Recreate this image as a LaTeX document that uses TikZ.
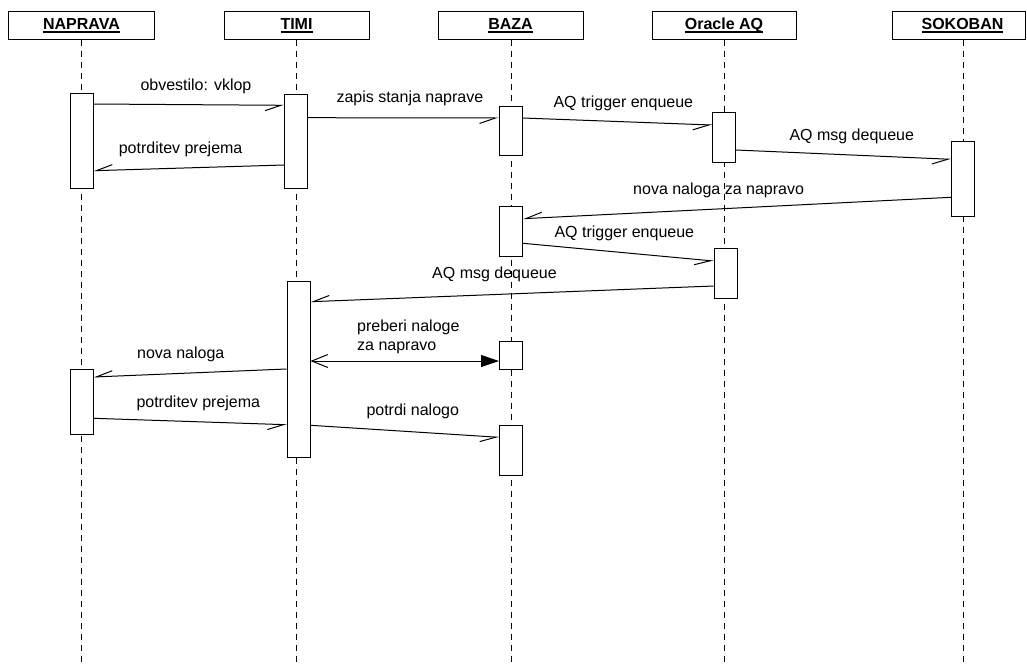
\documentclass[tikz,border=0pt]{standalone}
\usepackage{fontspec}
\setmainfont{Liberation Sans}
\usetikzlibrary{arrows.meta}
\newcommand\hdul[1]{\setbox0\hbox{#1}\rlap{\rule[-3pt]{\wd0}{1.1pt}}\box0}
\begin{document}
\begin{tikzpicture}[x=1pt,y=-1pt, line width=1pt,
  head/.style={draw, rectangle, minimum height=28pt, inner sep=0pt},
  htext/.style={font=\bfseries\fontsize{16pt}{19pt}\selectfont, inner sep=0pt, anchor=base},
  bar/.style={draw, fill=white, minimum width=23pt, inner sep=0pt},
  life/.style={dash pattern=on 6pt off 5pt, line width=1pt},
  lbl/.style={font=\fontsize{16pt}{19pt}\selectfont, inner sep=0pt, anchor=base west},
  msg/.style={-{Straight Barb[right,length=16pt,width=11pt]}},
]
\useasboundingbox (0,0) rectangle (1027,665);
\clip (0,0) rectangle (1027,665);
% headers
\node[head, minimum width=145.5pt] (hna) at (81.25,25) {};
\node[head, minimum width=145pt] (hti) at (296.5,25) {};
\node[head, minimum width=145pt] (hba) at (510.5,25) {};
\node[head, minimum width=144pt] (hor) at (724,25) {};
\node[head, minimum width=133pt] (hso) at (959,25) {};
\node[htext] (tna) at (81.5,29.5) {\hdul{NAPRAVA}};
\node[htext] (tti) at (296.5,29.5) {\hdul{TIMI}};
\node[htext] (tba) at (510.5,29.5) {\hdul{BAZA}};
\node[htext] (tor) at (724,29.5) {\hdul{Oracle AQ}};
\node[htext] (tso) at (962.5,29.5) {\hdul{SOKOBAN}};
% lifelines
\coordinate (bna) at (81.5,665);
\coordinate (bti) at (296.5,665);
\coordinate (bba) at (511,665);
\coordinate (bor) at (724.5,665);
\coordinate (bso) at (963,665);
\draw[life] (hna.south -| bna) -- (bna);
\draw[life] (hti.south -| bti) -- (bti);
\draw[life] (hba.south -| bba) -- (bba);
\draw[life] (hor.south -| bor) -- (bor);
\draw[life] (hso.south -| bso) -- (bso);
% activation bars
\node[bar, minimum height=95pt] (na1) at (81.5,140.5) {};
\node[bar, minimum height=65pt] (na2) at (81.5,401.5) {};
\node[bar, minimum height=94pt] (ti1) at (296,141) {};
\node[bar, minimum height=176pt] (ti2) at (298.5,369) {};
\node[bar, minimum height=49pt] (ba1) at (510.5,130.5) {};
\node[bar, minimum height=50pt] (ba2) at (511,231) {};
\node[bar, minimum height=28pt] (ba3) at (511,355) {};
\node[bar, minimum height=50pt] (ba4) at (511,450) {};
\node[bar, minimum height=50pt] (or1) at (724,137) {};
\node[bar, minimum height=50pt] (or2) at (725.5,273) {};
\node[bar, minimum height=75pt] (so1) at (963,178.5) {};
% messages
\draw[msg] (na1.east |- 0,104) -- (ti1.west |- 0,105.3);
\draw[msg] (ti1.east |- 0,117.7) -- (ba1.west |- 0,118);
\draw[msg] (ti1.west |- 0,165) -- (na1.east |- 0,170.7);
\draw[msg] (ba1.east |- 0,118) -- (or1.west |- 0,125);
\draw[msg] (or1.east |- 0,150) -- (so1.west |- 0,159.3);
\draw[msg] (so1.west |- 0,197.3) -- (ba2.east |- 0,218.7);
\draw[msg] (ba2.east |- 0,243.3) -- (or2.west |- 0,261);
\draw[msg] (or2.west |- 0,286) -- (ti2.east |- 0,301.7);
\draw[{Straight Barb[length=16pt,width=13pt]}-{Triangle[length=18pt,width=12pt]}] (ti2.east |- 0,361) -- (ba3.west |- 0,361);
\draw[msg] (ti2.west |- 0,369) -- (na2.east |- 0,377);
\draw[msg] (na2.east |- 0,418.3) -- (ti2.west |- 0,424.7);
\draw[msg] (ti2.east |- 0,425.3) -- (ba4.west |- 0,437.3);
% labels
\node[lbl] (l1) at (140,90) {obvestilo: vklop};
\node[lbl] (l2) at (336,102) {zapis stanja naprave};
\node[lbl] (l3) at (118.3,153) {potrditev prejema};
\node[lbl] (l4) at (553,107) {AQ trigger enqueue};
\node[lbl] (l5) at (789,140) {AQ msg dequeue};
\node[lbl] (l6) at (632.7,194) {nova naloga za napravo};
\node[lbl] (l7) at (554,237) {AQ trigger enqueue};
\node[lbl] (l8) at (431.7,278.5) {AQ msg dequeue};
\node[lbl] (l9a) at (356.7,331) {preberi naloge};
\node[lbl] (l9b) at (356.7,350) {za napravo};
\node[lbl] (l10) at (136.7,358.5) {nova naloga};
\node[lbl] (l11) at (136,407) {potrditev prejema};
\node[lbl] (l12) at (366,415.7) {potrdi nalogo};
\end{tikzpicture}
\end{document}
